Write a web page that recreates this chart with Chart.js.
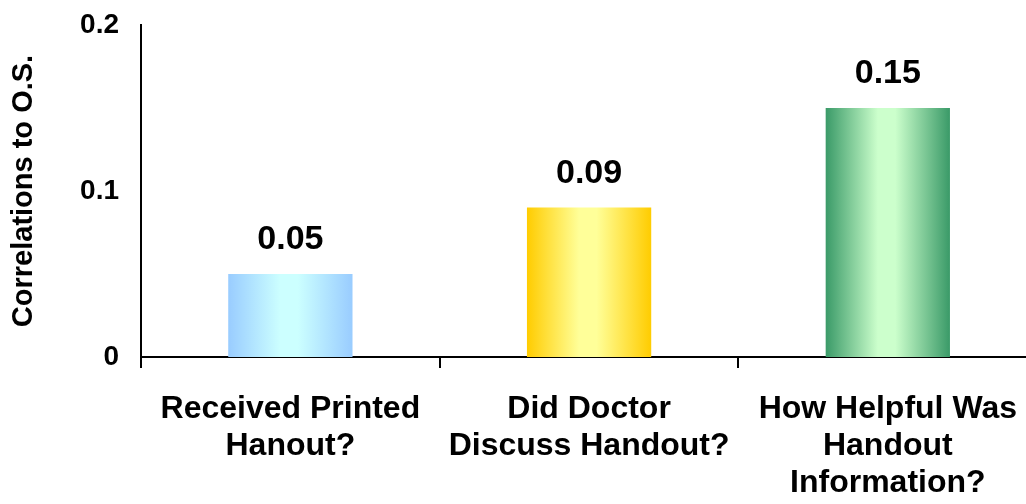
<!DOCTYPE html>
<html>
<head>
<meta charset="utf-8">
<script src="https://cdn.jsdelivr.net/npm/chart.js@4/dist/chart.umd.min.js"></script>
<style>
  html, body { margin: 0; padding: 0; background: #fff; overflow: hidden; }
  #wrap { width: 1040px; height: 504px; position: relative; }
</style>
</head>
<body>
<div id="wrap"><canvas id="chartCorrelations"></canvas></div>
<script>
const categories = [
  ['Received Printed', 'Hanout?'],
  ['Did Doctor', 'Discuss Handout?'],
  ['How Helpful Was', 'Handout', 'Information?'],
];
const correlations = [0.05, 0.09, 0.15];
const valueLabels = ['0.05', '0.09', '0.15'];
const yTicks = [0, 0.1, 0.2];

const edgeColors = ['#99CCFF', '#FFCC00', '#3A9A68'];
const centerColors = ['#CCFFFF', '#FFFF99', '#CCFFCC'];
const BAR_FRAC = 0.416;
const FONT = 'Liberation Sans, Arial, sans-serif';

function barFill(context) {
  const i = context.dataIndex;
  const chart = context.chart;
  const xScale = chart.scales.x;
  if (!chart.chartArea || !xScale || context.type !== 'data') {
    return edgeColors[i] || edgeColors[0];
  }
  const center = xScale.getPixelForValue(i);
  const half = (xScale.width / categories.length) * BAR_FRAC / 2;
  const g = chart.ctx.createLinearGradient(center - half, 0, center + half, 0);
  g.addColorStop(0, edgeColors[i]);
  g.addColorStop(0.42, centerColors[i]);
  g.addColorStop(0.56, centerColors[i]);
  g.addColorStop(1, edgeColors[i]);
  return g;
}

const valueLabelPlugin = {
  id: 'valueLabels',
  afterDatasetsDraw(chart) {
    const { ctx } = chart;
    const meta = chart.getDatasetMeta(0);
    ctx.save();
    ctx.fillStyle = '#000';
    ctx.font = `bold 34px ${FONT}`;
    ctx.textAlign = 'center';
    ctx.textBaseline = 'middle';
    meta.data.forEach((bar, i) => {
      ctx.fillText(valueLabels[i], bar.x, bar.y - 34);
    });
    ctx.restore();
  },
};

new Chart(document.getElementById('chartCorrelations').getContext('2d'), {
  type: 'bar',
  data: {
    labels: categories,
    datasets: [{
      data: correlations,
      backgroundColor: barFill,
      borderWidth: 0,
      barPercentage: BAR_FRAC,
      categoryPercentage: 1,
    }],
  },
  options: {
    responsive: true,
    maintainAspectRatio: false,
    animation: false,
    layout: { padding: { top: 25, left: 0, right: 0, bottom: 0 } },
    plugins: {
      legend: { display: false },
      tooltip: { enabled: false },
    },
    scales: {
      x: {
        grid: {
          offset: true,
          drawOnChartArea: false,
          tickLength: 11,
          color: '#000',
          lineWidth: 2,
        },
        border: { display: true, color: '#000', width: 2 },
        ticks: {
          color: '#000',
          padding: 23,
          maxRotation: 0,
          autoSkip: false,
          font: { family: FONT, size: 32, weight: 'bold', lineHeight: 1.15 },
        },
        afterFit(scale) { scale.height = 147; },
      },
      y: {
        min: 0,
        max: 0.2,
        afterBuildTicks(scale) { scale.ticks = yTicks.map((v) => ({ value: v })); },
        grid: { display: false },
        border: { display: true, color: '#000', width: 2 },
        ticks: {
          color: '#000',
          padding: 14,
          font: { family: FONT, size: 28, weight: 'bold' },
          callback: (value) => String(value),
        },
        title: {
          display: true,
          text: 'Correlations to O.S.',
          color: '#000',
          padding: { top: 7, bottom: 0 },
          font: { family: FONT, size: 29, weight: 'bold', lineHeight: 1.2 },
        },
        afterFit(scale) {
          scale.width = 141;
          scale.paddingTop = 0;
          scale.paddingBottom = 0;
        },
      },
    },
  },
  plugins: [valueLabelPlugin],
});
</script>
</body>
</html>
